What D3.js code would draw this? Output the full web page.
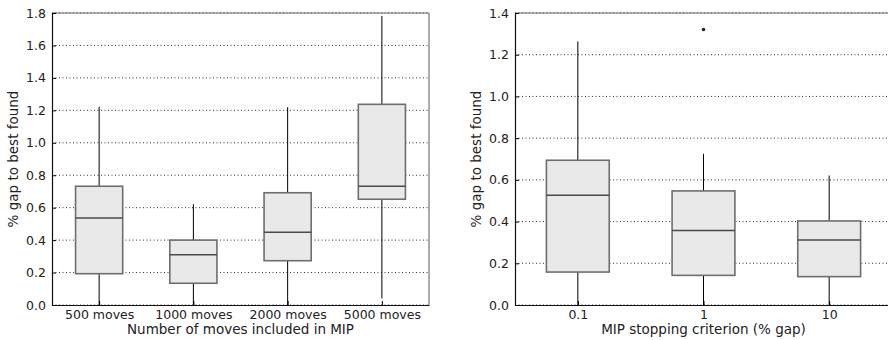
<!DOCTYPE html>
<html lang="en">
<head>
  <meta charset="UTF-8" />
  <title>Gap to best found</title>
  <script src="https://d3js.org/d3.v7.min.js"></script>
  <style>
    body { margin: 0; background: #fff; }
    svg { display: block; font-family: 'DejaVu Sans', sans-serif; }
    .tick text { font-family: 'DejaVu Sans', sans-serif; font-size: 12.5px; fill: #222; }
    .grid line { stroke: #000; stroke-dasharray: 1,2.5; stroke-width: 0.8; }
    .axis-label { font-size: 13.5px; fill: #222; }
  </style>
</head>
<body>
  <svg id="chart" width="888" height="340"></svg>
  <script>
    // Left panel: number of moves
    const movesCats = ["500 moves", "1000 moves", "2000 moves", "5000 moves"];
    const movesLow  = [0.0, 0.0, 0.0, 0.041];
    const movesQ1   = [0.193, 0.134, 0.273, 0.652];
    const movesMed  = [0.536, 0.31, 0.448, 0.732];
    const movesQ3   = [0.732, 0.40, 0.692, 1.237];
    const movesHigh = [1.222, 0.621, 1.219, 1.782];
    const movesTicks = [0.0, 0.2, 0.4, 0.6, 0.8, 1.0, 1.2, 1.4, 1.6, 1.8];

    // Right panel: stopping criterion
    const gapCats = ["0.1", "1", "10"];
    const gapLow  = [0.0, 0.0, 0.0];
    const gapQ1   = [0.158, 0.142, 0.136];
    const gapMed  = [0.526, 0.357, 0.312];
    const gapQ3   = [0.694, 0.547, 0.403];
    const gapHigh = [1.264, 0.725, 0.621];
    const gapOutliers = [[1, 1.321]]; // [category index, value]
    const gapTicks = [0.0, 0.2, 0.4, 0.6, 0.8, 1.0, 1.2, 1.4];

    const svg = d3.select("#chart");

    function drawPanel(opts) {
      const g = svg.append("g");
      const n = opts.cats.length;
      // positions 1..n, xlim 0.5..n+0.5 like matplotlib boxplot
      const x = d3.scaleLinear().domain([0.5, n + 0.5]).range([opts.left, opts.right]);
      const y = d3.scaleLinear().domain([0, opts.ymax]).range([opts.bottom, opts.top]);

      // grid
      g.append("g").attr("class", "grid")
        .selectAll("line").data(opts.ticks).enter().append("line")
        .attr("x1", opts.left).attr("x2", opts.right)
        .attr("y1", d => y(d)).attr("y2", d => y(d));

      const boxes = opts.cats.map((c, i) => ({
        pos: i + 1, low: opts.low[i], q1: opts.q1[i], med: opts.med[i], q3: opts.q3[i], high: opts.high[i]
      }));
      const half = 0.25;

      // whiskers
      g.selectAll(".wlo").data(boxes).enter().append("line")
        .attr("x1", d => x(d.pos)).attr("x2", d => x(d.pos))
        .attr("y1", d => y(d.q1)).attr("y2", d => y(d.low))
        .attr("stroke", "#000").attr("stroke-width", 1);
      g.selectAll(".whi").data(boxes).enter().append("line")
        .attr("x1", d => x(d.pos)).attr("x2", d => x(d.pos))
        .attr("y1", d => y(d.q3)).attr("y2", d => y(d.high))
        .attr("stroke", "#000").attr("stroke-width", 1);

      // boxes
      g.selectAll(".box").data(boxes).enter().append("rect")
        .attr("x", d => x(d.pos - half))
        .attr("width", d => x(d.pos + half) - x(d.pos - half))
        .attr("y", d => y(d.q3))
        .attr("height", d => y(d.q1) - y(d.q3))
        .attr("fill", "#e9e9e9").attr("stroke", "#6e6e6e").attr("stroke-width", 1.6);

      // medians
      g.selectAll(".med").data(boxes).enter().append("line")
        .attr("x1", d => x(d.pos - half)).attr("x2", d => x(d.pos + half))
        .attr("y1", d => y(d.med)).attr("y2", d => y(d.med))
        .attr("stroke", "#4a4a4a").attr("stroke-width", 1.6);

      // outliers
      g.selectAll(".out").data(opts.outliers || []).enter().append("circle")
        .attr("cx", d => x(d[0] + 1)).attr("cy", d => y(d[1]))
        .attr("r", 1.8).attr("fill", "#222238");

      // frame
      g.append("line").attr("x1", opts.left).attr("x2", opts.right)
        .attr("y1", opts.top).attr("y2", opts.top)
        .attr("stroke", "#666").attr("stroke-width", 1.2);
      g.append("line").attr("x1", opts.right).attr("x2", opts.right)
        .attr("y1", opts.top).attr("y2", opts.bottom)
        .attr("stroke", "#888").attr("stroke-width", 1.4);

      // axes
      const yAxis = d3.axisLeft(y).tickValues(opts.ticks).tickFormat(d3.format(".1f"))
        .tickSizeInner(-4).tickSizeOuter(0).tickPadding(6);
      const ya = g.append("g").attr("transform", `translate(${opts.left},0)`).call(yAxis);
      ya.select(".domain").attr("stroke", "#111").attr("stroke-width", 1.2);

      const xAxis = d3.axisBottom(x).tickValues(d3.range(1, n + 1))
        .tickFormat(d => opts.cats[d - 1]).tickSizeInner(-4).tickSizeOuter(0).tickPadding(5);
      const xa = g.append("g").attr("transform", `translate(0,${opts.bottom})`).call(xAxis);
      xa.select(".domain").attr("stroke", "#111").attr("stroke-width", 1.2);

      // labels
      g.append("text").attr("class", "axis-label")
        .attr("x", (opts.left + Math.min(opts.right, 888)) / 2 + (opts.xLabelShift || 0))
        .attr("y", opts.bottom + 29).attr("text-anchor", "middle").text(opts.xLabel);
      g.append("text").attr("class", "axis-label")
        .attr("transform", `translate(${opts.yLabelX},${(opts.top + opts.bottom) / 2}) rotate(-90)`)
        .attr("text-anchor", "middle").text(opts.yLabel);
    }

    drawPanel({
      cats: movesCats, low: movesLow, q1: movesQ1, med: movesMed, q3: movesQ3, high: movesHigh,
      ticks: movesTicks, ymax: 1.8,
      left: 52, right: 429, top: 13, bottom: 305,
      xLabel: "Number of moves included in MIP", yLabel: "% gap to best found", yLabelX: 18
    });

    drawPanel({
      cats: gapCats, low: gapLow, q1: gapQ1, med: gapMed, q3: gapQ3, high: gapHigh,
      outliers: gapOutliers, ticks: gapTicks, ymax: 1.4,
      left: 515, right: 892, top: 13, bottom: 305, xLabelShift: 2,
      xLabel: "MIP stopping criterion (% gap)", yLabel: "% gap to best found", yLabelX: 481
    });
  </script>
</body>
</html>
